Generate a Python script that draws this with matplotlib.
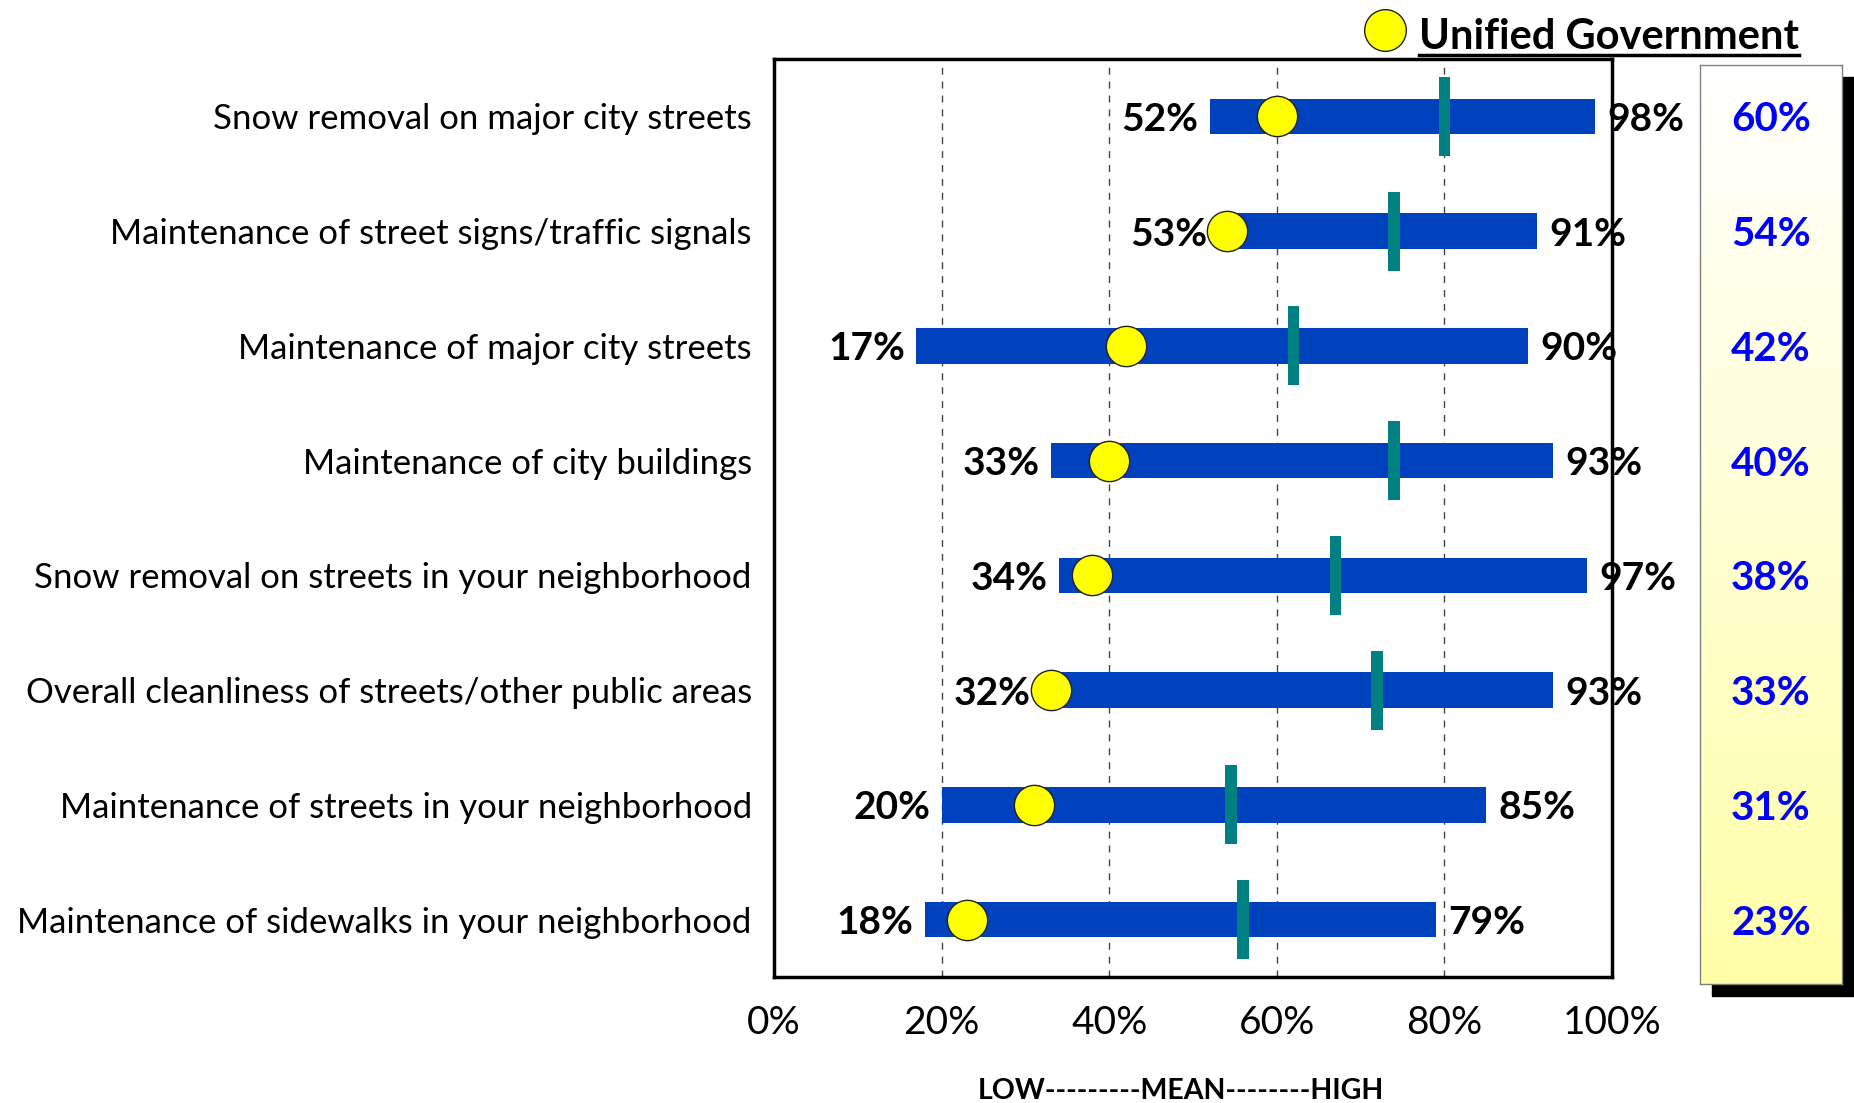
import numpy as np
import matplotlib
matplotlib.use("Agg")
from matplotlib import pyplot as plt
from matplotlib.patches import Rectangle
from matplotlib.lines import Line2D
from matplotlib.colors import LinearSegmentedColormap
from matplotlib.transforms import blended_transform_factory

plt.rcParams["font.family"] = ["Lato", "DejaVu Sans"]

categories = [
    "Snow removal on major city streets",
    "Maintenance of street signs/traffic signals",
    "Maintenance of major city streets",
    "Maintenance of city buildings",
    "Snow removal on streets in your neighborhood",
    "Overall cleanliness of streets/other public areas",
    "Maintenance of streets in your neighborhood",
    "Maintenance of sidewalks in your neighborhood",
]
low = [52, 53, 17, 33, 34, 32, 20, 18]
high = [98, 91, 90, 93, 97, 93, 85, 79]
mean = [80, 74, 62, 74, 67, 72, 54.5, 56]
unified = [60, 54, 42, 40, 38, 33, 31, 23]
x_ticks = [0, 20, 40, 60, 80, 100]
x_labels = [f"{t}%" for t in x_ticks]

W, H = 1854, 1103
fig = plt.figure(figsize=(W / 100, H / 100), dpi=100)

# main axes
ax = fig.add_axes([774 / W, 1 - 977 / H, 838 / W, 918 / H])
n = len(categories)
y = np.arange(n)
lo = np.array(low)
hi = np.array(high)
mn = np.array(mean)

ax.barh(y, hi - lo, left=lo, height=0.31, color="#0041BE", zorder=2)
ax.barh(y, 1.4, left=mn - 0.7, height=0.69, color="#008080", zorder=3)
ax.plot(unified, y, "o", ms=29, mfc="#FFFF00", mec="#222222", mew=1,
        zorder=6, clip_on=False, linestyle="none")

for i in range(n):
    ax.annotate(f"{low[i]}%", (low[i], y[i]), xytext=(-8, 0), textcoords="offset points",
                ha="right", va="center_baseline", fontsize=28, fontweight="bold",
                zorder=5, annotation_clip=False)
    ax.annotate(f"{high[i]}%", (high[i], y[i]), xytext=(9, 0), textcoords="offset points",
                ha="left", va="center_baseline", fontsize=28, fontweight="bold",
                zorder=5, annotation_clip=False)

ax.set_xlim(0, 100)
ax.set_ylim(n - 0.5, -0.5)
ax.set_xticks(x_ticks, x_labels, fontsize=28)
ax.set_yticks(y, categories, fontsize=25)
ax.tick_params(axis="both", length=0)
ax.tick_params(axis="x", pad=20)
ax.tick_params(axis="y", pad=16)
ax.grid(axis="x", linestyle=(0, (5, 5)), color="#444444", linewidth=1, zorder=1)
ax.set_axisbelow(True)
for s in ax.spines.values():
    s.set_linewidth(2.5)
    s.set_color("black")

fig.text(1181 / W, 1 - 1091 / H, "LOW---------MEAN--------HIGH", ha="center", va="center",
         fontsize=20.5, fontweight="bold")

# right side box with Unified Government values
bx, by, bw, bh = 1700, 65, 142, 919
off = 12
fig.patches.append(Rectangle(((bx + off) / W, 1 - (by + bh + off) / H), bw / W, bh / H,
                             transform=fig.transFigure, color="black", zorder=-1))
box = fig.add_axes([bx / W, 1 - (by + bh) / H, bw / W, bh / H])
cmap = LinearSegmentedColormap.from_list("box", ["#FFFFFF", "#FFFFA8"])
box.imshow(np.linspace(0, 1, 256).reshape(-1, 1), aspect="auto", cmap=cmap,
           extent=[0, 1, 0, 1], origin="upper")
box.set_xticks([])
box.set_yticks([])
for s in box.spines.values():
    s.set_color("#808080")
    s.set_linewidth(1)
trans = blended_transform_factory(box.transAxes, ax.transData)
for i in range(n):
    fig.text(0.5, y[i], f"{unified[i]}%", transform=trans, ha="center", va="center_baseline",
             fontsize=29, fontweight="bold", color="#0000FF")

# legend
fig.add_artist(Line2D([1385 / W], [1 - 30 / H], marker="o", ms=30, mfc="#FFFF00",
                      mec="#222222", mew=1, transform=fig.transFigure))
leg = fig.text(1419 / W, 1 - 49 / H, "Unified Government", ha="left", va="baseline",
               fontsize=30, fontweight="bold")
fig.canvas.draw()
bb = leg.get_window_extent()
fig.add_artist(Line2D([bb.x0 / W, bb.x1 / W], [1 - 55 / H, 1 - 55 / H], color="black",
                      linewidth=2.5, transform=fig.transFigure))

fig.savefig("out.png", dpi=100)
